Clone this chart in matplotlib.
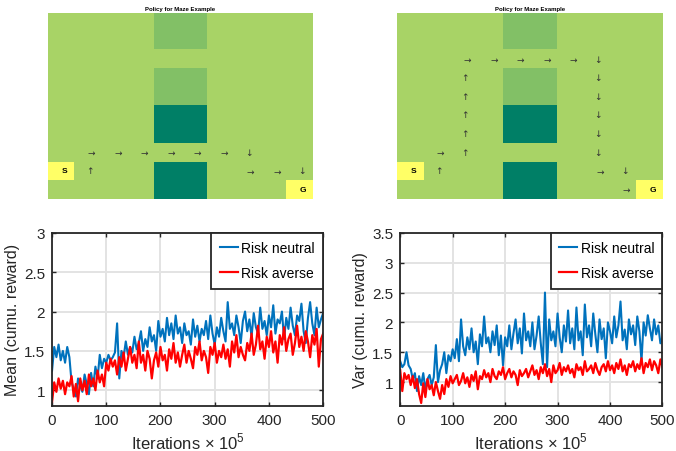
import numpy as np
import matplotlib
matplotlib.use("Agg")
import matplotlib.pyplot as plt

plt.rcParams['font.family'] = ['Liberation Sans', 'DejaVu Sans']
plt.rcParams['mathtext.fontset'] = 'custom'
plt.rcParams['mathtext.rm'] = 'Liberation Sans'

# maze layout: '.' free, 'm' mid cell, 'w' wall, 'S' start, 'G' goal
maze = ["....mm....",
        "....mm....",
        "..........",
        "....mm....",
        "....mm....",
        "....ww....",
        "....ww....",
        "..........",
        "S...ww....",
        "....ww...G"]
cell_value = {'.': 0.66, 'm': 0.51, 'w': 0.0, 'S': 1.0, 'G': 1.0}

# policies: r right, u up, d down
policy_neutral = ["..........",
                  "..........",
                  "..........",
                  "..........",
                  "..........",
                  "..........",
                  "..........",
                  ".rrrrrrd..",
                  ".u.....rrd",
                  ".........."]
policy_averse = ["..........",
                 "..........",
                 "..rrrrrd..",
                 "..u....d..",
                 "..u....d..",
                 "..u....d..",
                 "..u....d..",
                 ".ru....d..",
                 ".u.....rd.",
                 "........r."]
arrow_char = {'r': '\u2192', 'u': '\u2191', 'd': '\u2193'}

# curves (sampled every 4 iterations, 0..500)
mean_neutral = [1.25, 1.55, 1.42, 1.58, 1.38, 1.50, 1.35, 1.55, 1.42, 1.10,
                1.02, 0.92, 1.15, 1.05, 0.98, 1.20, 1.08, 0.95, 1.22, 1.05,
                1.30, 1.15, 1.45, 1.28, 1.40, 1.35, 1.45, 1.38, 1.42, 1.48,
                1.85, 1.15, 1.50, 1.42, 1.62, 1.45, 1.55, 1.48, 1.68, 1.52,
                1.60, 1.75, 1.50, 1.65, 1.55, 1.80, 1.62, 1.70, 1.50, 1.88,
                1.68, 1.78, 1.62, 1.92, 1.70, 1.85, 1.65, 1.95, 1.72, 1.80,
                1.60, 1.85, 1.70, 1.75, 1.58, 1.90, 1.68, 1.82, 1.62, 1.78,
                1.70, 1.88, 1.65, 1.95, 1.72, 1.58, 1.80, 1.68, 1.92, 1.75,
                1.62, 2.12, 1.78, 1.85, 1.70, 1.95, 1.80, 1.60, 1.88, 2.00,
                1.75, 1.90, 1.68, 1.98, 1.80, 1.72, 2.05, 1.78, 1.88, 1.70,
                1.95, 1.80, 2.08, 1.72, 1.90, 1.85, 2.00, 1.65, 1.92, 1.78,
                2.05, 1.82, 1.70, 1.95, 1.88, 2.10, 1.75, 1.60, 1.92, 2.12,
                1.85, 1.70, 2.05, 1.80, 1.90, 1.98]
mean_averse = [0.85, 1.10, 0.98, 1.15, 1.02, 1.12, 0.95, 1.10, 1.05, 1.18,
               0.92, 1.08, 0.86, 1.15, 1.00, 1.12, 0.95, 1.20, 1.05, 1.15,
               1.00, 1.25, 1.10, 1.20, 1.05, 1.35, 1.25, 1.40, 1.30, 1.38,
               1.20, 1.42, 1.30, 1.48, 1.25, 1.40, 1.55, 1.35, 1.45, 1.28,
               1.62, 1.35, 1.45, 1.25, 1.50, 1.40, 1.15, 1.38, 1.48, 1.30,
               1.55, 1.38, 1.45, 1.25, 1.52, 1.40, 1.60, 1.35, 1.48, 1.30,
               1.45, 1.58, 1.35, 1.50, 1.40, 1.28, 1.55, 1.45, 1.62, 1.38,
               1.50, 1.42, 1.22, 1.55, 1.45, 1.60, 1.35, 1.50, 1.42, 1.58,
               1.40, 1.52, 1.30, 1.62, 1.48, 1.70, 1.42, 1.55, 1.45, 1.38,
               1.60, 1.50, 1.72, 1.45, 1.58, 1.82, 1.52, 1.62, 1.40, 1.68,
               1.55, 1.75, 1.48, 1.62, 1.35, 1.70, 1.58, 1.80, 1.50, 1.65,
               1.72, 1.45, 1.60, 1.82, 1.55, 1.68, 1.50, 1.75, 1.62, 1.42,
               1.70, 1.58, 1.78, 1.30, 1.65, 1.72]
var_neutral = [1.35, 1.25, 1.30, 1.50, 1.28, 1.22, 1.05, 1.15, 0.85, 1.10,
               0.95, 1.15, 0.88, 1.05, 1.12, 0.95, 1.08, 1.62, 1.00, 1.20,
               1.30, 1.50, 1.15, 1.45, 1.35, 1.55, 1.40, 1.72, 1.35, 2.05,
               1.60, 1.45, 1.75, 1.55, 1.90, 1.50, 1.68, 1.30, 1.80, 1.60,
               2.10, 1.65, 1.75, 1.50, 1.85, 1.62, 1.95, 1.45, 1.78, 1.28,
               1.75, 1.60, 1.95, 1.55, 1.82, 2.05, 1.65, 1.90, 1.48, 2.15,
               1.70, 1.85, 1.60, 2.00, 1.55, 1.78, 2.10, 1.65, 1.30, 2.50,
               1.25, 2.05, 1.70, 1.85, 1.60, 2.15, 1.75, 1.50, 1.95, 1.68,
               2.20, 1.65, 1.90, 1.55, 2.25, 1.70, 1.85, 1.45, 2.30, 1.75,
               1.95, 1.60, 2.15, 1.80, 1.50, 2.05, 1.72, 1.90, 1.40, 2.00,
               1.85, 1.65, 2.10, 1.75, 1.95, 2.35, 1.70, 1.88, 1.55, 2.05,
               1.80, 1.95, 1.62, 2.10, 1.85, 1.35, 2.00, 1.78, 2.12, 1.90,
               1.70, 2.05, 1.80, 1.95, 1.65, 1.75]
var_averse = [1.20, 0.85, 1.15, 1.05, 1.12, 0.95, 1.10, 0.90, 1.05, 0.80,
              0.65, 0.98, 0.75, 1.05, 0.88, 0.95, 0.78, 1.00, 0.85, 0.72,
              0.95, 0.80, 1.05, 0.92, 1.10, 0.98, 1.05, 1.12, 0.95, 1.02,
              1.15, 0.98, 1.08, 0.92, 1.12, 1.02, 1.18, 0.88, 1.10, 1.05,
              1.20, 1.08, 1.15, 1.00, 1.22, 1.10, 1.05, 1.18, 1.12, 1.25,
              1.05, 1.15, 1.22, 1.08, 1.18, 1.12, 0.95, 1.20, 1.10, 1.15,
              1.22, 1.08, 1.18, 1.28, 1.12, 1.20, 1.05, 1.25, 1.15, 1.30,
              1.10, 1.22, 1.00, 1.28, 1.15, 1.20, 1.32, 1.12, 1.25, 1.18,
              1.28, 1.15, 1.22, 1.08, 1.30, 1.20, 1.25, 1.12, 1.35, 1.18,
              1.22, 1.28, 1.15, 1.32, 1.20, 1.12, 1.25, 1.30, 1.18, 1.35,
              1.20, 1.28, 1.15, 1.32, 1.22, 1.38, 1.18, 1.28, 1.12, 1.30,
              1.25, 1.35, 1.18, 1.30, 1.22, 1.40, 1.15, 1.32, 1.25, 1.38,
              1.20, 1.35, 1.28, 1.15, 1.38, 1.25]

blue = '#0072BD'
red = '#FF0000'

fig = plt.figure(figsize=(6.76, 4.52), dpi=100)


def draw_maze(ax, policy):
    grid = np.array([[cell_value[ch] for ch in row] for row in maze])
    ax.imshow(grid, cmap='summer', vmin=0, vmax=1, aspect='auto',
              interpolation='nearest')
    for r, row in enumerate(maze):
        for c, ch in enumerate(row):
            if ch in 'SG':
                ax.text(c + 0.12, r, ch, ha='center', va='center',
                        fontsize=6, fontweight='bold', color='black')
    for r, row in enumerate(policy):
        for c, ch in enumerate(row):
            if ch in arrow_char:
                dx = 0.15 if ch == 'r' else 0.08
                ax.text(c + dx, r, arrow_char[ch], ha='center', va='center',
                        fontsize=6.5, color='#333333', family='DejaVu Sans')
    ax.set_title('Policy for Maze Example', fontsize=4.3, fontweight='bold',
                 pad=2)
    ax.axis('off')


ax1 = fig.add_axes([0.071, 0.558, 0.392, 0.412])
draw_maze(ax1, policy_neutral)
ax2 = fig.add_axes([0.587, 0.558, 0.393, 0.412])
draw_maze(ax2, policy_averse)


def draw_curve(ax, neutral, averse, ylim, yticks, ylabel):
    x = np.linspace(0, 500, len(neutral))
    ax.plot(x, neutral, color=blue, lw=1.5, label='Risk neutral')
    ax.plot(x, averse, color=red, lw=1.6, label='Risk averse')
    ax.set_xlim(0, 500)
    ax.set_ylim(*ylim)
    ax.set_xticks([0, 100, 200, 300, 400, 500])
    ax.set_yticks(yticks)
    ax.set_yticklabels([('%g' % t) for t in yticks])
    ax.grid(True, color='#e3e3e3', lw=1.4)
    ax.set_axisbelow(True)
    ax.tick_params(direction='in', top=True, right=True, length=3,
                   width=1, labelsize=11, colors='#262626', pad=5)
    for s in ax.spines.values():
        s.set_linewidth(1.3)
        s.set_color('#262626')
    ax.set_xlabel('Iterations $\\times$ 10$^5$', fontsize=12,
                  color='#262626', labelpad=3)
    ax.set_ylabel(ylabel, fontsize=11.5, color='#262626', labelpad=3)
    leg = ax.legend(loc='upper right', borderaxespad=0, fancybox=False,
                    framealpha=1, edgecolor='#262626', fontsize=10,
                    handlelength=1.3, handletextpad=0.25, labelspacing=0.8,
                    borderpad=0.6)
    leg.get_frame().set_linewidth(1.3)


ax3 = fig.add_axes([0.077, 0.0996, 0.401, 0.383])
draw_curve(ax3, mean_neutral, mean_averse, (0.8, 3.0),
           [1, 1.5, 2, 2.5, 3], 'Mean (cumu. reward)')
ax4 = fig.add_axes([0.592, 0.0996, 0.388, 0.383])
draw_curve(ax4, var_neutral, var_averse, (0.6, 3.5),
           [1, 1.5, 2, 2.5, 3, 3.5], 'Var (cumu. reward)')

fig.savefig('out.png', dpi=100)
